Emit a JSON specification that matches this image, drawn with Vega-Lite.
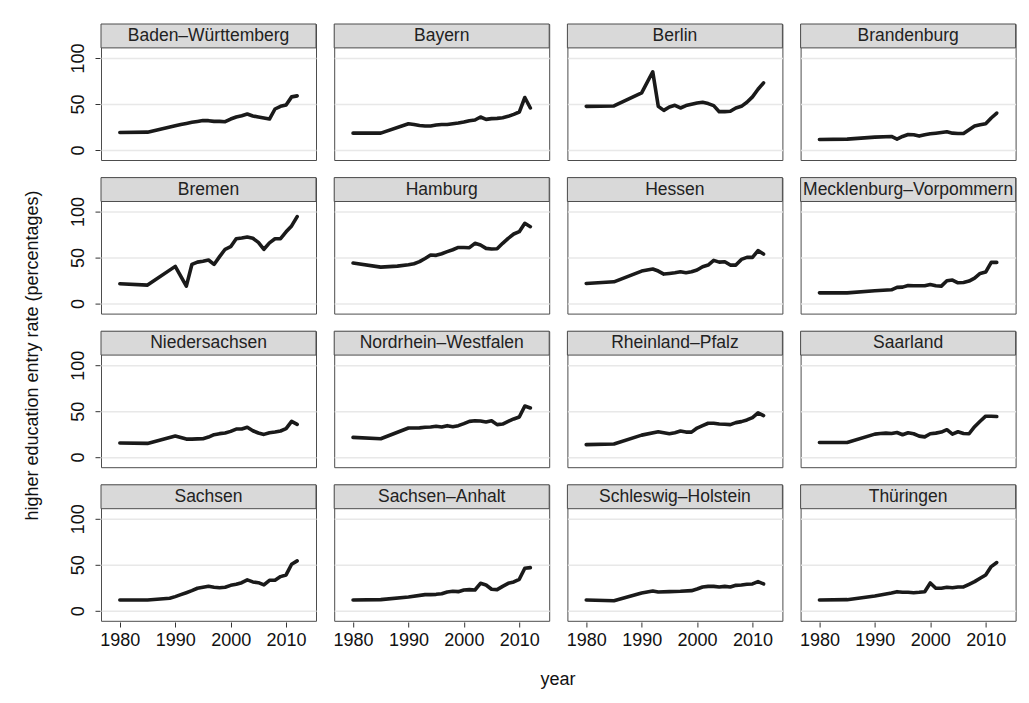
{
"$schema": "https://vega.github.io/schema/vega-lite/v6.json",
"background": "white",
"padding": {"left": 23, "top": 22, "right": 14, "bottom": 5},
"title": {"text": "higher education entry rate (percentages)", "orient": "left", "anchor": "middle", "fontSize": 18, "fontWeight": "normal", "color": "#111111", "font": "Liberation Sans", "offset": 27},
"datasets": {"rates": [
{"state":"Baden–Württemberg","year":1980,"rate":19},{"state":"Baden–Württemberg","year":1985,"rate":19.3},{"state":"Baden–Württemberg","year":1990,"rate":26.3},{"state":"Baden–Württemberg","year":1991,"rate":27.7},{"state":"Baden–Württemberg","year":1992,"rate":28.8},{"state":"Baden–Württemberg","year":1993,"rate":30},{"state":"Baden–Württemberg","year":1994,"rate":31},{"state":"Baden–Württemberg","year":1995,"rate":32},{"state":"Baden–Württemberg","year":1996,"rate":31.8},{"state":"Baden–Württemberg","year":1997,"rate":31},{"state":"Baden–Württemberg","year":1998,"rate":31},{"state":"Baden–Württemberg","year":1999,"rate":30.7},{"state":"Baden–Württemberg","year":2000,"rate":33.6},{"state":"Baden–Württemberg","year":2001,"rate":35.8},{"state":"Baden–Württemberg","year":2002,"rate":37.2},{"state":"Baden–Württemberg","year":2003,"rate":39},{"state":"Baden–Württemberg","year":2004,"rate":36.9},{"state":"Baden–Württemberg","year":2005,"rate":35.8},{"state":"Baden–Württemberg","year":2006,"rate":34.7},{"state":"Baden–Württemberg","year":2007,"rate":33.6},{"state":"Baden–Württemberg","year":2008,"rate":44.5},{"state":"Baden–Württemberg","year":2009,"rate":47.4},{"state":"Baden–Württemberg","year":2010,"rate":48.9},{"state":"Baden–Württemberg","year":2011,"rate":57.7},{"state":"Baden–Württemberg","year":2012,"rate":58.8},
{"state":"Bayern","year":1980,"rate":18.2},{"state":"Bayern","year":1985,"rate":18.2},{"state":"Bayern","year":1990,"rate":28.5},{"state":"Bayern","year":1991,"rate":27.7},{"state":"Bayern","year":1992,"rate":26.6},{"state":"Bayern","year":1993,"rate":26},{"state":"Bayern","year":1994,"rate":26},{"state":"Bayern","year":1995,"rate":27},{"state":"Bayern","year":1996,"rate":27.7},{"state":"Bayern","year":1997,"rate":27.7},{"state":"Bayern","year":1998,"rate":28.5},{"state":"Bayern","year":1999,"rate":29.2},{"state":"Bayern","year":2000,"rate":30.3},{"state":"Bayern","year":2001,"rate":31.8},{"state":"Bayern","year":2002,"rate":32.5},{"state":"Bayern","year":2003,"rate":35.8},{"state":"Bayern","year":2004,"rate":33.2},{"state":"Bayern","year":2005,"rate":34},{"state":"Bayern","year":2006,"rate":34.3},{"state":"Bayern","year":2007,"rate":35},{"state":"Bayern","year":2008,"rate":36.5},{"state":"Bayern","year":2009,"rate":38.7},{"state":"Bayern","year":2010,"rate":41.2},{"state":"Bayern","year":2011,"rate":57},{"state":"Bayern","year":2012,"rate":45.6},
{"state":"Berlin","year":1980,"rate":47.4},{"state":"Berlin","year":1985,"rate":47.8},{"state":"Berlin","year":1990,"rate":62},{"state":"Berlin","year":1992,"rate":85},{"state":"Berlin","year":1993,"rate":47.4},{"state":"Berlin","year":1994,"rate":43},{"state":"Berlin","year":1995,"rate":46.7},{"state":"Berlin","year":1996,"rate":48.5},{"state":"Berlin","year":1997,"rate":45.6},{"state":"Berlin","year":1998,"rate":48.2},{"state":"Berlin","year":1999,"rate":49.6},{"state":"Berlin","year":2000,"rate":51},{"state":"Berlin","year":2001,"rate":51.8},{"state":"Berlin","year":2002,"rate":50.4},{"state":"Berlin","year":2003,"rate":48.2},{"state":"Berlin","year":2004,"rate":41.6},{"state":"Berlin","year":2005,"rate":41.6},{"state":"Berlin","year":2006,"rate":42},{"state":"Berlin","year":2007,"rate":45.6},{"state":"Berlin","year":2008,"rate":47.4},{"state":"Berlin","year":2009,"rate":51.8},{"state":"Berlin","year":2010,"rate":57.7},{"state":"Berlin","year":2011,"rate":66},{"state":"Berlin","year":2012,"rate":73},
{"state":"Brandenburg","year":1980,"rate":11.3},{"state":"Brandenburg","year":1985,"rate":11.7},{"state":"Brandenburg","year":1990,"rate":13.9},{"state":"Brandenburg","year":1993,"rate":14.6},{"state":"Brandenburg","year":1994,"rate":11.7},{"state":"Brandenburg","year":1995,"rate":14.6},{"state":"Brandenburg","year":1996,"rate":16.8},{"state":"Brandenburg","year":1997,"rate":16.4},{"state":"Brandenburg","year":1998,"rate":15},{"state":"Brandenburg","year":1999,"rate":16.4},{"state":"Brandenburg","year":2000,"rate":17.5},{"state":"Brandenburg","year":2001,"rate":18.2},{"state":"Brandenburg","year":2002,"rate":19},{"state":"Brandenburg","year":2003,"rate":19.7},{"state":"Brandenburg","year":2004,"rate":18.2},{"state":"Brandenburg","year":2005,"rate":17.9},{"state":"Brandenburg","year":2006,"rate":17.9},{"state":"Brandenburg","year":2007,"rate":21.9},{"state":"Brandenburg","year":2008,"rate":25.9},{"state":"Brandenburg","year":2009,"rate":27.4},{"state":"Brandenburg","year":2010,"rate":28.5},{"state":"Brandenburg","year":2011,"rate":34.7},{"state":"Brandenburg","year":2012,"rate":40.1},
{"state":"Bremen","year":1980,"rate":21.5},{"state":"Bremen","year":1985,"rate":20},{"state":"Bremen","year":1990,"rate":40.4},{"state":"Bremen","year":1992,"rate":18.9},{"state":"Bremen","year":1993,"rate":42.5},{"state":"Bremen","year":1994,"rate":45},{"state":"Bremen","year":1995,"rate":46},{"state":"Bremen","year":1996,"rate":47.3},{"state":"Bremen","year":1997,"rate":42.5},{"state":"Bremen","year":1998,"rate":51},{"state":"Bremen","year":1999,"rate":59},{"state":"Bremen","year":2000,"rate":61.8},{"state":"Bremen","year":2001,"rate":70.5},{"state":"Bremen","year":2002,"rate":71.3},{"state":"Bremen","year":2003,"rate":72.4},{"state":"Bremen","year":2004,"rate":71},{"state":"Bremen","year":2005,"rate":66.5},{"state":"Bremen","year":2006,"rate":59},{"state":"Bremen","year":2007,"rate":66},{"state":"Bremen","year":2008,"rate":70.5},{"state":"Bremen","year":2009,"rate":70.5},{"state":"Bremen","year":2010,"rate":78},{"state":"Bremen","year":2011,"rate":84.4},{"state":"Bremen","year":2012,"rate":94.5},
{"state":"Hamburg","year":1980,"rate":44},{"state":"Hamburg","year":1985,"rate":39.6},{"state":"Hamburg","year":1988,"rate":40.7},{"state":"Hamburg","year":1990,"rate":42.2},{"state":"Hamburg","year":1991,"rate":43.3},{"state":"Hamburg","year":1992,"rate":45.5},{"state":"Hamburg","year":1993,"rate":49},{"state":"Hamburg","year":1994,"rate":52.7},{"state":"Hamburg","year":1995,"rate":52.4},{"state":"Hamburg","year":1996,"rate":54.2},{"state":"Hamburg","year":1997,"rate":56.4},{"state":"Hamburg","year":1998,"rate":58.5},{"state":"Hamburg","year":1999,"rate":61},{"state":"Hamburg","year":2000,"rate":61},{"state":"Hamburg","year":2001,"rate":60.7},{"state":"Hamburg","year":2002,"rate":65.5},{"state":"Hamburg","year":2003,"rate":63.6},{"state":"Hamburg","year":2004,"rate":60},{"state":"Hamburg","year":2005,"rate":59.3},{"state":"Hamburg","year":2006,"rate":59.6},{"state":"Hamburg","year":2007,"rate":65.5},{"state":"Hamburg","year":2008,"rate":70.9},{"state":"Hamburg","year":2009,"rate":75.6},{"state":"Hamburg","year":2010,"rate":78.2},{"state":"Hamburg","year":2011,"rate":87.3},{"state":"Hamburg","year":2012,"rate":83.6},
{"state":"Hessen","year":1980,"rate":21.8},{"state":"Hessen","year":1985,"rate":23.6},{"state":"Hessen","year":1990,"rate":35.3},{"state":"Hessen","year":1992,"rate":37.5},{"state":"Hessen","year":1993,"rate":35.3},{"state":"Hessen","year":1994,"rate":32},{"state":"Hessen","year":1995,"rate":32.7},{"state":"Hessen","year":1996,"rate":33.5},{"state":"Hessen","year":1997,"rate":34.5},{"state":"Hessen","year":1998,"rate":33.5},{"state":"Hessen","year":1999,"rate":34.5},{"state":"Hessen","year":2000,"rate":36.4},{"state":"Hessen","year":2001,"rate":40},{"state":"Hessen","year":2002,"rate":41.8},{"state":"Hessen","year":2003,"rate":46.9},{"state":"Hessen","year":2004,"rate":45},{"state":"Hessen","year":2005,"rate":45.5},{"state":"Hessen","year":2006,"rate":41.8},{"state":"Hessen","year":2007,"rate":41.8},{"state":"Hessen","year":2008,"rate":48},{"state":"Hessen","year":2009,"rate":50.2},{"state":"Hessen","year":2010,"rate":50.2},{"state":"Hessen","year":2011,"rate":57.5},{"state":"Hessen","year":2012,"rate":53.8},
{"state":"Mecklenburg–Vorpommern","year":1980,"rate":11.6},{"state":"Mecklenburg–Vorpommern","year":1985,"rate":11.6},{"state":"Mecklenburg–Vorpommern","year":1990,"rate":13.8},{"state":"Mecklenburg–Vorpommern","year":1993,"rate":14.9},{"state":"Mecklenburg–Vorpommern","year":1994,"rate":17.5},{"state":"Mecklenburg–Vorpommern","year":1995,"rate":17.8},{"state":"Mecklenburg–Vorpommern","year":1996,"rate":19.6},{"state":"Mecklenburg–Vorpommern","year":1997,"rate":19.3},{"state":"Mecklenburg–Vorpommern","year":1998,"rate":19.3},{"state":"Mecklenburg–Vorpommern","year":1999,"rate":19.3},{"state":"Mecklenburg–Vorpommern","year":2000,"rate":20.7},{"state":"Mecklenburg–Vorpommern","year":2001,"rate":19.3},{"state":"Mecklenburg–Vorpommern","year":2002,"rate":18.9},{"state":"Mecklenburg–Vorpommern","year":2003,"rate":24.7},{"state":"Mecklenburg–Vorpommern","year":2004,"rate":25.5},{"state":"Mecklenburg–Vorpommern","year":2005,"rate":22.5},{"state":"Mecklenburg–Vorpommern","year":2006,"rate":22.9},{"state":"Mecklenburg–Vorpommern","year":2007,"rate":24.4},{"state":"Mecklenburg–Vorpommern","year":2008,"rate":27.6},{"state":"Mecklenburg–Vorpommern","year":2009,"rate":32.7},{"state":"Mecklenburg–Vorpommern","year":2010,"rate":34.2},{"state":"Mecklenburg–Vorpommern","year":2011,"rate":44.7},{"state":"Mecklenburg–Vorpommern","year":2012,"rate":44.7},
{"state":"Niedersachsen","year":1980,"rate":15.3},{"state":"Niedersachsen","year":1985,"rate":14.9},{"state":"Niedersachsen","year":1990,"rate":22.9},{"state":"Niedersachsen","year":1992,"rate":19.6},{"state":"Niedersachsen","year":1993,"rate":19.6},{"state":"Niedersachsen","year":1994,"rate":19.8},{"state":"Niedersachsen","year":1995,"rate":20},{"state":"Niedersachsen","year":1996,"rate":21.8},{"state":"Niedersachsen","year":1997,"rate":24.4},{"state":"Niedersachsen","year":1998,"rate":25.5},{"state":"Niedersachsen","year":1999,"rate":26.2},{"state":"Niedersachsen","year":2000,"rate":28},{"state":"Niedersachsen","year":2001,"rate":30.5},{"state":"Niedersachsen","year":2002,"rate":30.5},{"state":"Niedersachsen","year":2003,"rate":32.4},{"state":"Niedersachsen","year":2004,"rate":28.7},{"state":"Niedersachsen","year":2005,"rate":26.2},{"state":"Niedersachsen","year":2006,"rate":24.7},{"state":"Niedersachsen","year":2007,"rate":26.5},{"state":"Niedersachsen","year":2008,"rate":27.3},{"state":"Niedersachsen","year":2009,"rate":28.4},{"state":"Niedersachsen","year":2010,"rate":30.9},{"state":"Niedersachsen","year":2011,"rate":38.9},{"state":"Niedersachsen","year":2012,"rate":35.6},
{"state":"Nordrhein–Westfalen","year":1980,"rate":21.5},{"state":"Nordrhein–Westfalen","year":1985,"rate":20},{"state":"Nordrhein–Westfalen","year":1990,"rate":31.6},{"state":"Nordrhein–Westfalen","year":1991,"rate":31.6},{"state":"Nordrhein–Westfalen","year":1992,"rate":31.8},{"state":"Nordrhein–Westfalen","year":1993,"rate":32.4},{"state":"Nordrhein–Westfalen","year":1994,"rate":32.7},{"state":"Nordrhein–Westfalen","year":1995,"rate":33.5},{"state":"Nordrhein–Westfalen","year":1996,"rate":32.7},{"state":"Nordrhein–Westfalen","year":1997,"rate":34.2},{"state":"Nordrhein–Westfalen","year":1998,"rate":33.1},{"state":"Nordrhein–Westfalen","year":1999,"rate":34.2},{"state":"Nordrhein–Westfalen","year":2000,"rate":36.4},{"state":"Nordrhein–Westfalen","year":2001,"rate":38.9},{"state":"Nordrhein–Westfalen","year":2002,"rate":39.6},{"state":"Nordrhein–Westfalen","year":2003,"rate":39.3},{"state":"Nordrhein–Westfalen","year":2004,"rate":38.2},{"state":"Nordrhein–Westfalen","year":2005,"rate":39.6},{"state":"Nordrhein–Westfalen","year":2006,"rate":35.3},{"state":"Nordrhein–Westfalen","year":2007,"rate":36},{"state":"Nordrhein–Westfalen","year":2008,"rate":38.9},{"state":"Nordrhein–Westfalen","year":2009,"rate":41.5},{"state":"Nordrhein–Westfalen","year":2010,"rate":43.6},{"state":"Nordrhein–Westfalen","year":2011,"rate":55.6},{"state":"Nordrhein–Westfalen","year":2012,"rate":53.5},
{"state":"Rheinland–Pfalz","year":1980,"rate":13.6},{"state":"Rheinland–Pfalz","year":1985,"rate":14.3},{"state":"Rheinland–Pfalz","year":1990,"rate":23.9},{"state":"Rheinland–Pfalz","year":1993,"rate":27.6},{"state":"Rheinland–Pfalz","year":1994,"rate":26.5},{"state":"Rheinland–Pfalz","year":1995,"rate":25.4},{"state":"Rheinland–Pfalz","year":1996,"rate":26.5},{"state":"Rheinland–Pfalz","year":1997,"rate":28.3},{"state":"Rheinland–Pfalz","year":1998,"rate":27.2},{"state":"Rheinland–Pfalz","year":1999,"rate":27.2},{"state":"Rheinland–Pfalz","year":2000,"rate":31.6},{"state":"Rheinland–Pfalz","year":2001,"rate":34.2},{"state":"Rheinland–Pfalz","year":2002,"rate":36.8},{"state":"Rheinland–Pfalz","year":2003,"rate":36.8},{"state":"Rheinland–Pfalz","year":2004,"rate":36},{"state":"Rheinland–Pfalz","year":2005,"rate":35.7},{"state":"Rheinland–Pfalz","year":2006,"rate":35.3},{"state":"Rheinland–Pfalz","year":2007,"rate":37.5},{"state":"Rheinland–Pfalz","year":2008,"rate":38.6},{"state":"Rheinland–Pfalz","year":2009,"rate":40.4},{"state":"Rheinland–Pfalz","year":2010,"rate":43},{"state":"Rheinland–Pfalz","year":2011,"rate":48.2},{"state":"Rheinland–Pfalz","year":2012,"rate":45.2},
{"state":"Saarland","year":1980,"rate":15.8},{"state":"Saarland","year":1985,"rate":15.8},{"state":"Saarland","year":1990,"rate":25},{"state":"Saarland","year":1991,"rate":25.7},{"state":"Saarland","year":1992,"rate":26.1},{"state":"Saarland","year":1993,"rate":25.7},{"state":"Saarland","year":1994,"rate":26.8},{"state":"Saarland","year":1995,"rate":24.3},{"state":"Saarland","year":1996,"rate":26.5},{"state":"Saarland","year":1997,"rate":25.4},{"state":"Saarland","year":1998,"rate":22.8},{"state":"Saarland","year":1999,"rate":22},{"state":"Saarland","year":2000,"rate":25.4},{"state":"Saarland","year":2001,"rate":26.1},{"state":"Saarland","year":2002,"rate":27.2},{"state":"Saarland","year":2003,"rate":29.8},{"state":"Saarland","year":2004,"rate":25},{"state":"Saarland","year":2005,"rate":27.6},{"state":"Saarland","year":2006,"rate":25.7},{"state":"Saarland","year":2007,"rate":25.4},{"state":"Saarland","year":2008,"rate":33.1},{"state":"Saarland","year":2009,"rate":39},{"state":"Saarland","year":2010,"rate":44.5},{"state":"Saarland","year":2011,"rate":44.5},{"state":"Saarland","year":2012,"rate":44.1},
{"state":"Sachsen","year":1980,"rate":11.6},{"state":"Sachsen","year":1985,"rate":11.6},{"state":"Sachsen","year":1989,"rate":13.5},{"state":"Sachsen","year":1990,"rate":15.3},{"state":"Sachsen","year":1991,"rate":17.5},{"state":"Sachsen","year":1992,"rate":19.6},{"state":"Sachsen","year":1993,"rate":21.8},{"state":"Sachsen","year":1994,"rate":24.4},{"state":"Sachsen","year":1995,"rate":25.5},{"state":"Sachsen","year":1996,"rate":26.5},{"state":"Sachsen","year":1997,"rate":25.5},{"state":"Sachsen","year":1998,"rate":25},{"state":"Sachsen","year":1999,"rate":25.5},{"state":"Sachsen","year":2000,"rate":27.6},{"state":"Sachsen","year":2001,"rate":28.7},{"state":"Sachsen","year":2002,"rate":30.5},{"state":"Sachsen","year":2003,"rate":33.5},{"state":"Sachsen","year":2004,"rate":31.3},{"state":"Sachsen","year":2005,"rate":30.5},{"state":"Sachsen","year":2006,"rate":28},{"state":"Sachsen","year":2007,"rate":33.1},{"state":"Sachsen","year":2008,"rate":33.1},{"state":"Sachsen","year":2009,"rate":37.1},{"state":"Sachsen","year":2010,"rate":38.9},{"state":"Sachsen","year":2011,"rate":50.5},{"state":"Sachsen","year":2012,"rate":54.2},
{"state":"Sachsen–Anhalt","year":1980,"rate":11.6},{"state":"Sachsen–Anhalt","year":1985,"rate":12},{"state":"Sachsen–Anhalt","year":1990,"rate":14.9},{"state":"Sachsen–Anhalt","year":1993,"rate":17.5},{"state":"Sachsen–Anhalt","year":1994,"rate":17.5},{"state":"Sachsen–Anhalt","year":1995,"rate":17.8},{"state":"Sachsen–Anhalt","year":1996,"rate":18.5},{"state":"Sachsen–Anhalt","year":1997,"rate":20.4},{"state":"Sachsen–Anhalt","year":1998,"rate":21.1},{"state":"Sachsen–Anhalt","year":1999,"rate":20.7},{"state":"Sachsen–Anhalt","year":2000,"rate":22.5},{"state":"Sachsen–Anhalt","year":2001,"rate":22.9},{"state":"Sachsen–Anhalt","year":2002,"rate":22.5},{"state":"Sachsen–Anhalt","year":2003,"rate":29.8},{"state":"Sachsen–Anhalt","year":2004,"rate":28},{"state":"Sachsen–Anhalt","year":2005,"rate":23.3},{"state":"Sachsen–Anhalt","year":2006,"rate":22.9},{"state":"Sachsen–Anhalt","year":2007,"rate":26.5},{"state":"Sachsen–Anhalt","year":2008,"rate":29.8},{"state":"Sachsen–Anhalt","year":2009,"rate":31.3},{"state":"Sachsen–Anhalt","year":2010,"rate":34.2},{"state":"Sachsen–Anhalt","year":2011,"rate":46.2},{"state":"Sachsen–Anhalt","year":2012,"rate":46.9},
{"state":"Schleswig–Holstein","year":1980,"rate":11.6},{"state":"Schleswig–Holstein","year":1985,"rate":10.9},{"state":"Schleswig–Holstein","year":1990,"rate":19.3},{"state":"Schleswig–Holstein","year":1992,"rate":21.5},{"state":"Schleswig–Holstein","year":1993,"rate":20.4},{"state":"Schleswig–Holstein","year":1995,"rate":20.7},{"state":"Schleswig–Holstein","year":1997,"rate":21.1},{"state":"Schleswig–Holstein","year":1999,"rate":21.8},{"state":"Schleswig–Holstein","year":2000,"rate":23.6},{"state":"Schleswig–Holstein","year":2001,"rate":25.8},{"state":"Schleswig–Holstein","year":2002,"rate":26.5},{"state":"Schleswig–Holstein","year":2003,"rate":26.5},{"state":"Schleswig–Holstein","year":2004,"rate":25.8},{"state":"Schleswig–Holstein","year":2005,"rate":26.5},{"state":"Schleswig–Holstein","year":2006,"rate":25.8},{"state":"Schleswig–Holstein","year":2007,"rate":27.6},{"state":"Schleswig–Holstein","year":2008,"rate":28},{"state":"Schleswig–Holstein","year":2009,"rate":28.7},{"state":"Schleswig–Holstein","year":2010,"rate":29.1},{"state":"Schleswig–Holstein","year":2011,"rate":31.6},{"state":"Schleswig–Holstein","year":2012,"rate":29.1},
{"state":"Thüringen","year":1980,"rate":11.6},{"state":"Thüringen","year":1985,"rate":12},{"state":"Thüringen","year":1990,"rate":16},{"state":"Thüringen","year":1993,"rate":19.3},{"state":"Thüringen","year":1994,"rate":20.7},{"state":"Thüringen","year":1995,"rate":20},{"state":"Thüringen","year":1996,"rate":20},{"state":"Thüringen","year":1997,"rate":19.6},{"state":"Thüringen","year":1998,"rate":20},{"state":"Thüringen","year":1999,"rate":20.7},{"state":"Thüringen","year":2000,"rate":30.2},{"state":"Thüringen","year":2001,"rate":24.4},{"state":"Thüringen","year":2002,"rate":24.4},{"state":"Thüringen","year":2003,"rate":25.5},{"state":"Thüringen","year":2004,"rate":25},{"state":"Thüringen","year":2005,"rate":25.8},{"state":"Thüringen","year":2006,"rate":25.8},{"state":"Thüringen","year":2007,"rate":28.7},{"state":"Thüringen","year":2008,"rate":31.6},{"state":"Thüringen","year":2009,"rate":35.3},{"state":"Thüringen","year":2010,"rate":38.9},{"state":"Thüringen","year":2011,"rate":48},{"state":"Thüringen","year":2012,"rate":52.4}
]},
"data": {"name": "rates"},
"facet": {"field": "state", "type": "nominal", "title": "year",
  "header": {"labels": false, "labelExpr": "''", "labelFontSize": 1, "labelPadding": 0, "titleOrient": "bottom", "titleFontSize": 18, "titleFontWeight": "normal", "titleColor": "#111111", "titleFont": "Liberation Sans", "titlePadding": 22},
  "sort": ["Baden–Württemberg","Bayern","Berlin","Brandenburg","Bremen","Hamburg","Hessen","Mecklenburg–Vorpommern","Niedersachsen","Nordrhein–Westfalen","Rheinland–Pfalz","Saarland","Sachsen","Sachsen–Anhalt","Schleswig–Holstein","Thüringen"]},
"columns": 4,
"spacing": {"row": 14.6, "column": 16.2},
"spec": {
  "width": 215,
  "height": 136,
  "layer": [
    {"transform": [{"filter": "datum.year == 1980"}],
     "mark": {"type": "rect", "fill": "#d9d9d9", "stroke": "#4d4d4d", "strokeWidth": 1},
     "encoding": {"x": {"datum": 1976.6}, "x2": {"datum": 2015.4}, "y": {"datum": 111}, "y2": {"datum": 137}}},
    {"transform": [{"filter": "datum.year == 1980"}],
     "mark": {"type": "text", "fontSize": 17.5, "font": "Liberation Sans", "color": "#222222", "baseline": "middle", "align": "center"},
     "encoding": {"x": {"datum": 1996}, "y": {"datum": 124}, "text": {"field": "state"}}},
    {"mark": {"type": "line", "color": "#1a1a1a", "strokeWidth": 3.6, "strokeJoin": "round", "strokeCap": "round"},
     "encoding": {
       "x": {"field": "year", "type": "quantitative", "title": null,
             "scale": {"domain": [1976.6, 2015.4], "nice": false, "zero": false},
             "axis": {"values": [1980, 1990, 2000, 2010], "format": "d", "grid": false, "domain": false, "tickSize": 5, "tickColor": "#333333", "labelFontSize": 18, "labelColor": "#111111", "labelPadding": 4}},
       "y": {"field": "rate", "type": "quantitative", "title": null,
             "scale": {"domain": [-11, 137], "nice": false, "zero": false},
             "axis": {"values": [0, 50, 100], "grid": true, "gridColor": "#e8e8e8", "gridWidth": 1.5, "domain": false, "tickSize": 5, "tickColor": "#333333", "labelAngle": -90, "labelAlign": "center", "labelBaseline": "bottom", "labelFontSize": 18, "labelColor": "#111111", "labelPadding": 8}}
     }}
  ]
},
"config": {
  "font": "Liberation Sans",
  "view": {"stroke": "#4d4d4d", "strokeWidth": 1}
}
}
